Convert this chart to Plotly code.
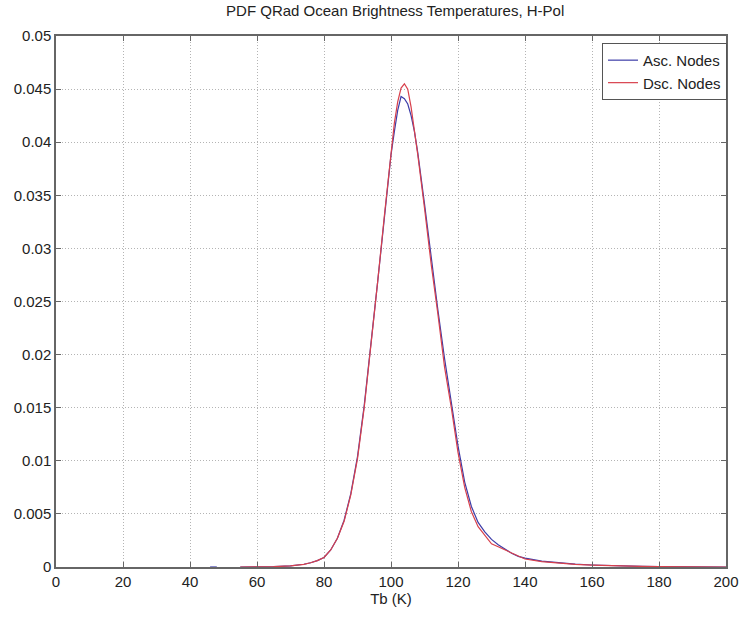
import plotly.graph_objects as go

# ---- data ----
tb = [55, 60, 65, 70, 72, 74, 76, 78, 80, 82, 84, 86, 88, 90, 92, 94, 96, 98,
      100, 101, 102, 103, 104, 105, 106, 107, 108, 110, 112, 114, 116, 118, 120,
      122, 124, 126, 128, 130, 132, 134, 136, 138, 140, 145, 150, 155, 160, 165,
      170, 175, 180, 190, 200]

pdf_dsc = [0.0, 0.0, 0.00003, 0.0001, 0.00015, 0.00025, 0.0004, 0.0006, 0.0009,
           0.0016, 0.0027, 0.0043, 0.0068, 0.0102, 0.0150, 0.0207, 0.0268, 0.0330,
           0.0393, 0.0418, 0.0438, 0.0451, 0.0455, 0.0450, 0.0433, 0.0412, 0.0388,
           0.0338, 0.0285, 0.0238, 0.0188, 0.0150, 0.0108, 0.0075, 0.0052, 0.0038,
           0.0030, 0.00218, 0.0019, 0.0016, 0.0013, 0.0010, 0.00075, 0.0005,
           0.00035, 0.00025, 0.00018, 0.00012, 0.00008, 0.00005, 0.00003, 0.00001, 0.0]

pdf_asc = [0.0, 0.0, 0.00003, 0.0001, 0.00016, 0.00026, 0.0004, 0.0006, 0.0009,
           0.0016, 0.0027, 0.0044, 0.0069, 0.0104, 0.0152, 0.0208, 0.0268, 0.0328,
           0.0388, 0.0410, 0.0430, 0.0443, 0.0441, 0.0436, 0.0425, 0.0410, 0.0390,
           0.0342, 0.0290, 0.0242, 0.0196, 0.0155, 0.0114, 0.0080, 0.0057, 0.0042,
           0.0033, 0.0026, 0.0021, 0.0017, 0.0013, 0.0010, 0.00084, 0.00055,
           0.00038, 0.00027, 0.00019, 0.00013, 0.00009, 0.00005, 0.00003, 0.00001, 0.0]

# small isolated ascending-node segment near 47 K
tb_asc_extra = [46, 48]
pdf_asc_extra = [0.0, 0.0]

x_ticks = [0, 20, 40, 60, 80, 100, 120, 140, 160, 180, 200]
y_ticks = [0, 0.005, 0.01, 0.015, 0.02, 0.025, 0.03, 0.035, 0.04, 0.045, 0.05]
y_labels = ["0", "0.005", "0.01", "0.015", "0.02", "0.025", "0.03", "0.035",
            "0.04", "0.045", "0.05"]

BLUE = "#3c3ca8"
RED = "#d8404c"
FONT = "Liberation Sans, Arial"
TXT = "#222222"

fig = go.Figure()
fig.add_trace(go.Scatter(x=tb_asc_extra, y=pdf_asc_extra, mode="lines",
                         line=dict(color=BLUE, width=1.2), showlegend=False))
fig.add_trace(go.Scatter(x=tb, y=pdf_asc, mode="lines", name="Asc. Nodes",
                         line=dict(color=BLUE, width=1.2)))
fig.add_trace(go.Scatter(x=tb, y=pdf_dsc, mode="lines", name="Dsc. Nodes",
                         line=dict(color=RED, width=1.2)))

axis_common = dict(
    showline=True, linecolor="#666666", linewidth=1.5, mirror="allticks",
    ticks="inside", ticklen=5, tickcolor="#666666",
    showgrid=True, gridcolor="#b4b4b4", griddash="1px,2px", gridwidth=1,
    zeroline=False,
    tickfont=dict(family=FONT, size=15, color=TXT),
)

fig.update_layout(
    width=751, height=617,
    margin=dict(l=56, r=17, t=36, b=48),
    paper_bgcolor="white", plot_bgcolor="white",
    title=dict(text="PDF QRad Ocean Brightness Temperatures, H-Pol",
               x=0.5262, xanchor="center", y=0.991, yanchor="top",
               font=dict(family=FONT, size=15, color=TXT)),
    xaxis=dict(range=[0, 200], tickvals=x_ticks, ticktext=[str(v) for v in x_ticks],
               title=dict(text="Tb (K)", standoff=5,
                          font=dict(family=FONT, size=15, color=TXT)),
               **axis_common),
    yaxis=dict(range=[0, 0.05], tickvals=y_ticks, ticktext=y_labels, **axis_common),
    legend=dict(x=1.0015, xanchor="right", y=0.987, yanchor="top",
                bordercolor="#555555", borderwidth=1, bgcolor="white",
                font=dict(family=FONT, size=15, color=TXT),
                tracegroupgap=0, itemwidth=30),
    showlegend=True,
)

fig.write_html("out.html")
